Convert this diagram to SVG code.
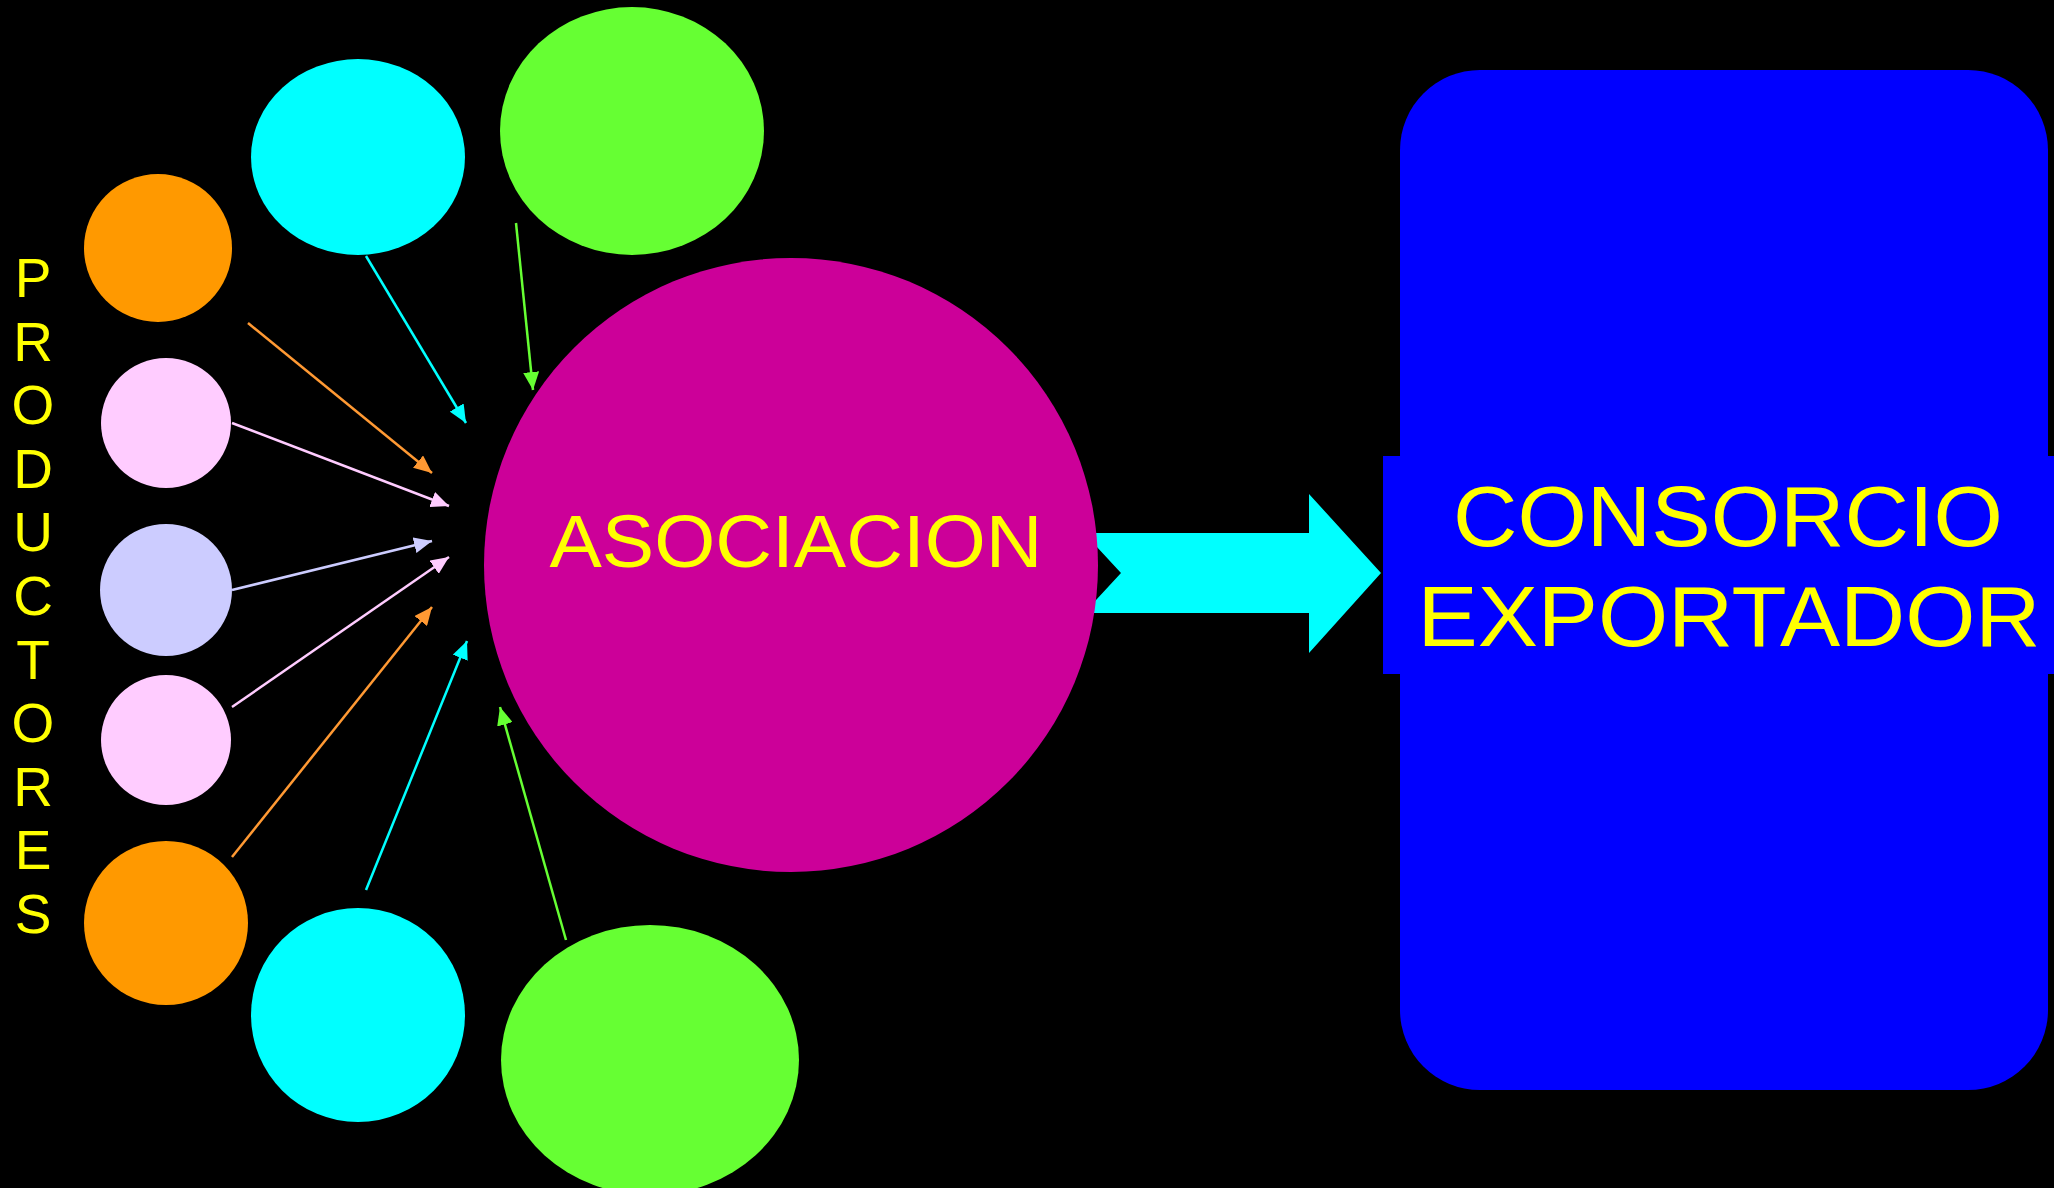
<svg xmlns="http://www.w3.org/2000/svg" width="2054" height="1188" viewBox="0 0 2054 1188">
<style>
.lbl{font-family:"Liberation Sans",Arial,sans-serif;fill:#FFFF00}
.c{stroke-width:2.5;fill:none}
</style>
<defs>
<marker id="mOr" markerUnits="userSpaceOnUse" markerWidth="18" markerHeight="16" refX="18" refY="8" orient="auto"><path d="M0,0L18,8L0,16z" fill="#FF9933"/></marker>
<marker id="mPk" markerUnits="userSpaceOnUse" markerWidth="18" markerHeight="16" refX="18" refY="8" orient="auto"><path d="M0,0L18,8L0,16z" fill="#FFCCFF"/></marker>
<marker id="mLv" markerUnits="userSpaceOnUse" markerWidth="18" markerHeight="16" refX="18" refY="8" orient="auto"><path d="M0,0L18,8L0,16z" fill="#CCCCFF"/></marker>
<marker id="mCy" markerUnits="userSpaceOnUse" markerWidth="18" markerHeight="16" refX="18" refY="8" orient="auto"><path d="M0,0L18,8L0,16z" fill="#00FFFF"/></marker>
<marker id="mGr" markerUnits="userSpaceOnUse" markerWidth="18" markerHeight="16" refX="18" refY="8" orient="auto"><path d="M0,0L18,8L0,16z" fill="#66FF33"/></marker>
</defs>
<rect width="2054" height="1188" fill="#000"/>

<g id="consorcio">
<rect x="1400" y="70" width="648" height="1020" rx="80" fill="#0000FF"/>
<rect x="1383" y="456" width="671" height="218" fill="#0000FF"/>
<text class="lbl" x="1728" y="546" font-size="86" text-anchor="middle" textLength="550" lengthAdjust="spacingAndGlyphs">CONSORCIO</text>
<text class="lbl" x="1729" y="646" font-size="86" text-anchor="middle" textLength="623" lengthAdjust="spacingAndGlyphs">EXPORTADOR</text>
</g>

<g id="flecha-grande">
<polygon points="1084,533 1309,533 1309,494 1381,573 1309,653 1309,613 1084,613 1121,573" fill="#00FFFF"/>
</g>

<g id="asociacion">
<circle cx="791" cy="565" r="307" fill="#CC0099"/>
<text class="lbl" x="796" y="567" font-size="74" text-anchor="middle" textLength="493" lengthAdjust="spacingAndGlyphs">ASOCIACION</text>
</g>

<g id="productores-label">
<text class="lbl" font-size="55" text-anchor="middle"><tspan x="33" y="297">P</tspan><tspan x="33" y="361">R</tspan><tspan x="33" y="424">O</tspan><tspan x="33" y="488">D</tspan><tspan x="33" y="551">U</tspan><tspan x="33" y="615">C</tspan><tspan x="33" y="679">T</tspan><tspan x="33" y="742">O</tspan><tspan x="33" y="806">R</tspan><tspan x="33" y="869">E</tspan><tspan x="33" y="933">S</tspan></text>
</g>

<g id="p-naranja-1"><circle cx="158" cy="248" r="74" fill="#FF9900"/></g>
<g id="p-cian-1"><ellipse cx="358" cy="157" rx="107" ry="98" fill="#00FFFF"/></g>
<g id="p-verde-1"><ellipse cx="632" cy="131" rx="132" ry="124" fill="#66FF33"/></g>
<g id="p-rosa-1"><circle cx="166" cy="423" r="65" fill="#FFCCFF"/></g>
<g id="p-lavanda"><circle cx="166" cy="590" r="66" fill="#CCCCFF"/></g>
<g id="p-rosa-2"><circle cx="166" cy="740" r="65" fill="#FFCCFF"/></g>
<g id="p-naranja-2"><ellipse cx="166" cy="923" rx="82" ry="82" fill="#FF9900"/></g>
<g id="p-cian-2"><circle cx="358" cy="1015" r="107" fill="#00FFFF"/></g>
<g id="p-verde-2"><ellipse cx="650" cy="1060" rx="149" ry="135" fill="#66FF33"/></g>

<g id="connectors">
<line class="c" x1="366" y1="256" x2="466" y2="423" stroke="#00FFFF" marker-end="url(#mCy)"/>
<line class="c" x1="516" y1="223" x2="533" y2="390" stroke="#66FF33" marker-end="url(#mGr)"/>
<line class="c" x1="248" y1="323" x2="432" y2="473" stroke="#FF9933" marker-end="url(#mOr)"/>
<line class="c" x1="232" y1="423" x2="449" y2="506" stroke="#FFCCFF" marker-end="url(#mPk)"/>
<line class="c" x1="232" y1="590" x2="432" y2="541" stroke="#CCCCFF" marker-end="url(#mLv)"/>
<line class="c" x1="232" y1="707" x2="449" y2="557" stroke="#FFCCFF" marker-end="url(#mPk)"/>
<line class="c" x1="232" y1="857" x2="432" y2="607" stroke="#FF9933" marker-end="url(#mOr)"/>
<line class="c" x1="366" y1="890" x2="467" y2="641" stroke="#00FFFF" marker-end="url(#mCy)"/>
<line class="c" x1="566" y1="940" x2="500" y2="707" stroke="#66FF33" marker-end="url(#mGr)"/>
</g>
</svg>
